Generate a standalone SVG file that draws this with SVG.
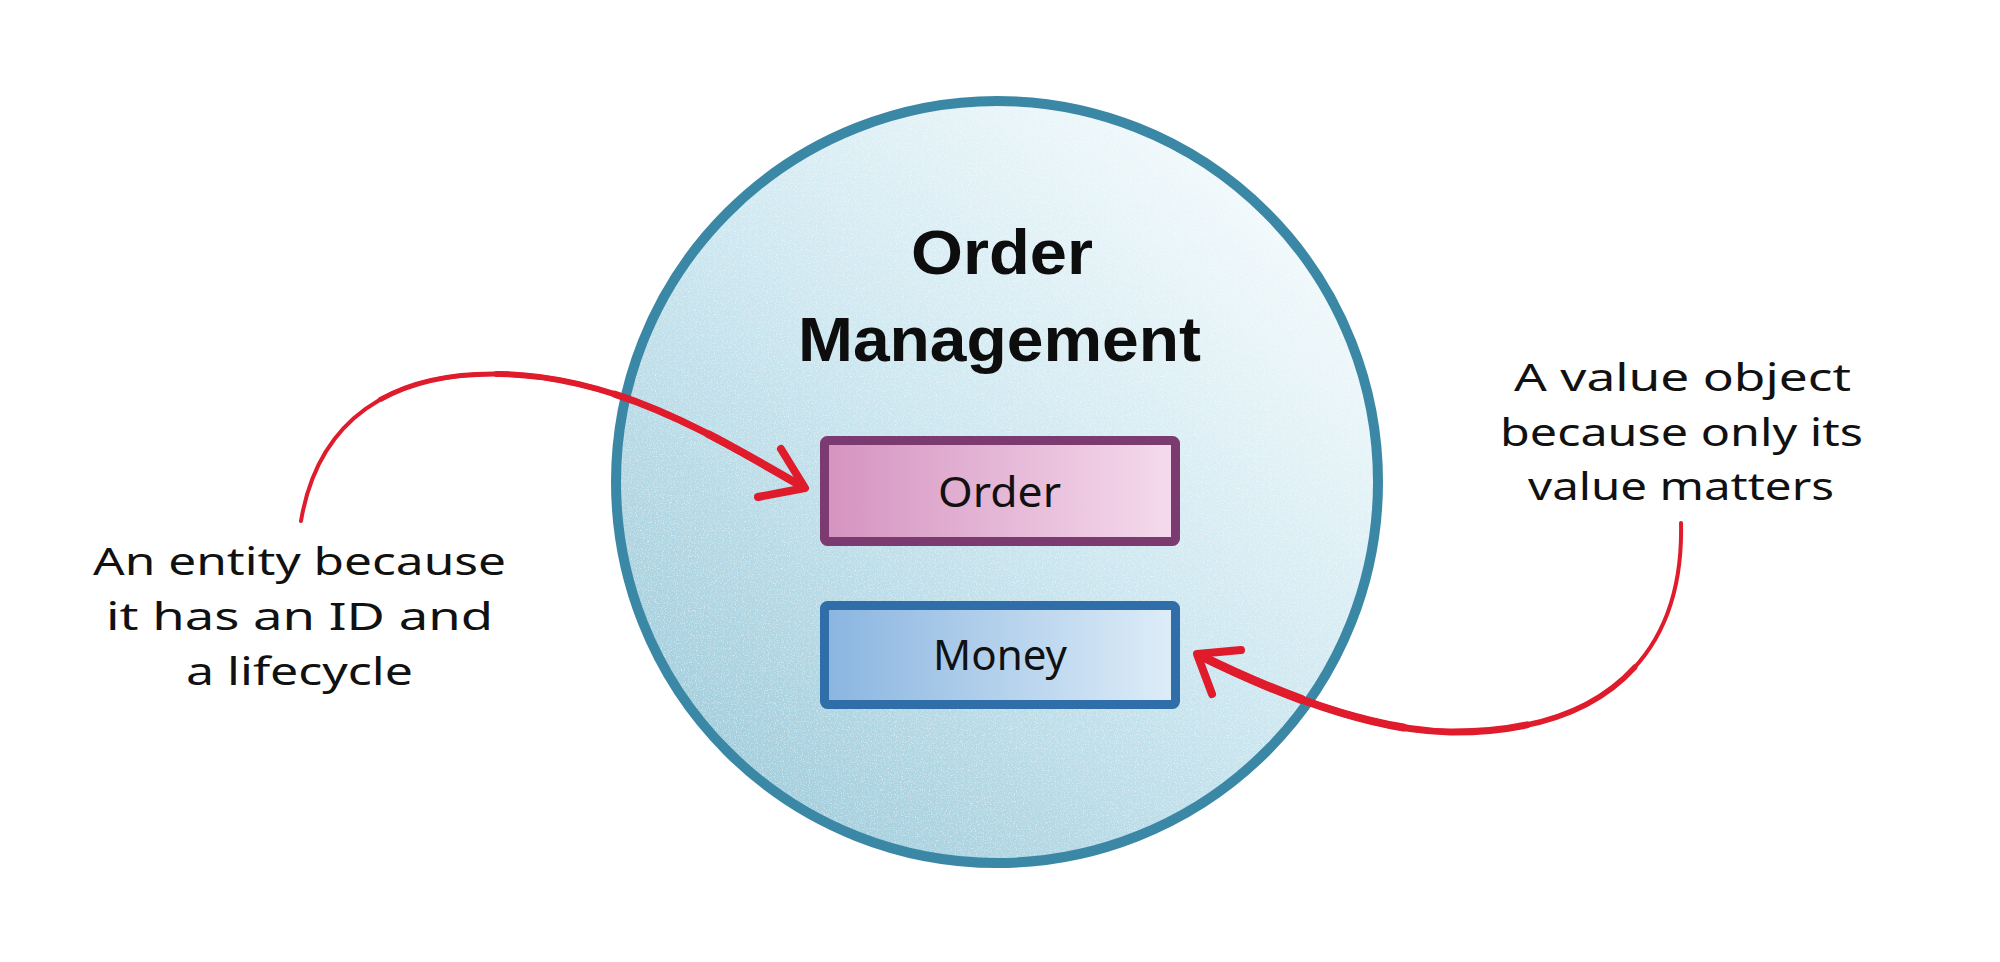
<svg xmlns="http://www.w3.org/2000/svg" width="2000" height="962" viewBox="0 0 2000 962">
  <style>
    .note { font-family: "Noto Sans", "Liberation Sans", sans-serif; font-size: 39px; fill: #111; }
    .title { font-family: "Liberation Sans", "Noto Sans", sans-serif; font-size: 63px; font-weight: 700; fill: #0d0d0d; }
    .label { font-family: "Noto Sans", "Liberation Sans", sans-serif; font-size: 41px; fill: #111; }
    .arrow { fill: none; stroke: #e01b2b; stroke-linecap: round; stroke-linejoin: round; }
    .t1 { stroke-dasharray: 75 200; stroke-dashoffset: -25; }
    .t2 { stroke-dasharray: 55 200; stroke-dashoffset: -45; }
    .t3 { stroke-dasharray: 35 200; stroke-dashoffset: -65; }
    .t4 { stroke-dasharray: 18 200; stroke-dashoffset: -82; }
  </style>
  <defs>
    <linearGradient id="circleFill" x1="0.85" y1="0.1" x2="0.15" y2="0.9">
      <stop offset="0" stop-color="#f3fafc"/>
      <stop offset="0.5" stop-color="#cde7f0"/>
      <stop offset="1" stop-color="#a2cddc"/>
    </linearGradient>
    <linearGradient id="orderFill" x1="0" y1="0" x2="1" y2="0">
      <stop offset="0" stop-color="#d593c0"/>
      <stop offset="1" stop-color="#f5dbed"/>
    </linearGradient>
    <linearGradient id="moneyFill" x1="0" y1="0" x2="1" y2="0">
      <stop offset="0" stop-color="#8ab5e0"/>
      <stop offset="1" stop-color="#deedf8"/>
    </linearGradient>
    <filter id="grain" x="0" y="0" width="1" height="1">
      <feTurbulence type="fractalNoise" baseFrequency="0.85" numOctaves="2" seed="4" result="n"/>
      <feColorMatrix in="n" type="matrix" values="0 0 0 0 1  0 0 0 0 1  0 0 0 0 1  3.2 0 0 0 -1.6" result="w"/>
      <feComposite in="w" in2="SourceGraphic" operator="in"/>
    </filter>
    <path id="leftCurve" pathLength="100" d="M 301 521 C 318 420 390 372 500 374 C 620 376 720 440 803 487"/>
    <path id="rightCurve" pathLength="100" d="M 1681 523 C 1684 650 1610 733 1450 732 C 1380 731 1290 700 1199 655"/>
  </defs>

  <rect x="0" y="0" width="2000" height="962" fill="#ffffff"/>

  <g id="context">
    <circle cx="997" cy="482" r="381" fill="url(#circleFill)"/>
    <circle cx="997" cy="482" r="381" fill="#ffffff" filter="url(#grain)" opacity="0.5"/>
    <circle cx="997" cy="482" r="381" fill="none" stroke="#3b88a6" stroke-width="10"/>
    <text class="title" x="911" y="274" textLength="182" lengthAdjust="spacingAndGlyphs">Order</text>
    <text class="title" x="798" y="361" textLength="403" lengthAdjust="spacingAndGlyphs">Management</text>
  </g>

  <g id="order">
    <rect x="824.5" y="440.5" width="351" height="101" rx="3" fill="url(#orderFill)" stroke="#7b3a70" stroke-width="9"/>
    <text class="label" x="938" y="507" textLength="123" lengthAdjust="spacingAndGlyphs">Order</text>
  </g>

  <g id="money">
    <rect x="824.5" y="605.5" width="351" height="99" rx="3" fill="url(#moneyFill)" stroke="#2f6ea8" stroke-width="9"/>
    <text class="label" x="933" y="670" textLength="134" lengthAdjust="spacingAndGlyphs">Money</text>
  </g>

  <g id="entity-note">
    <text class="note" x="93" y="575" textLength="413" lengthAdjust="spacingAndGlyphs">An entity because</text>
    <text class="note" x="106" y="630" textLength="387" lengthAdjust="spacingAndGlyphs">it has an ID and</text>
    <text class="note" x="186" y="685" textLength="227" lengthAdjust="spacingAndGlyphs">a lifecycle</text>
  </g>

  <g id="value-note">
    <text class="note" x="1514" y="391" textLength="337" lengthAdjust="spacingAndGlyphs">A value object</text>
    <text class="note" x="1500" y="446" textLength="363" lengthAdjust="spacingAndGlyphs">because only its</text>
    <text class="note" x="1528" y="500" textLength="306" lengthAdjust="spacingAndGlyphs">value matters</text>
  </g>

  <g id="connectors">
    <use href="#leftCurve" class="arrow" stroke-width="4"/>
    <use href="#leftCurve" class="arrow t1" stroke-width="5"/>
    <use href="#leftCurve" class="arrow t2" stroke-width="6"/>
    <use href="#leftCurve" class="arrow t3" stroke-width="7"/>
    <use href="#leftCurve" class="arrow t4" stroke-width="8"/>
    <polyline class="arrow" stroke-width="8" points="781,449 805,488 758,497"/>
    <use href="#rightCurve" class="arrow" stroke-width="4"/>
    <use href="#rightCurve" class="arrow t1" stroke-width="5.5"/>
    <use href="#rightCurve" class="arrow t2" stroke-width="7"/>
    <use href="#rightCurve" class="arrow t3" stroke-width="8"/>
    <use href="#rightCurve" class="arrow t4" stroke-width="9"/>
    <polyline class="arrow" stroke-width="8" points="1241,650 1197,654 1212,694"/>
  </g>
</svg>
